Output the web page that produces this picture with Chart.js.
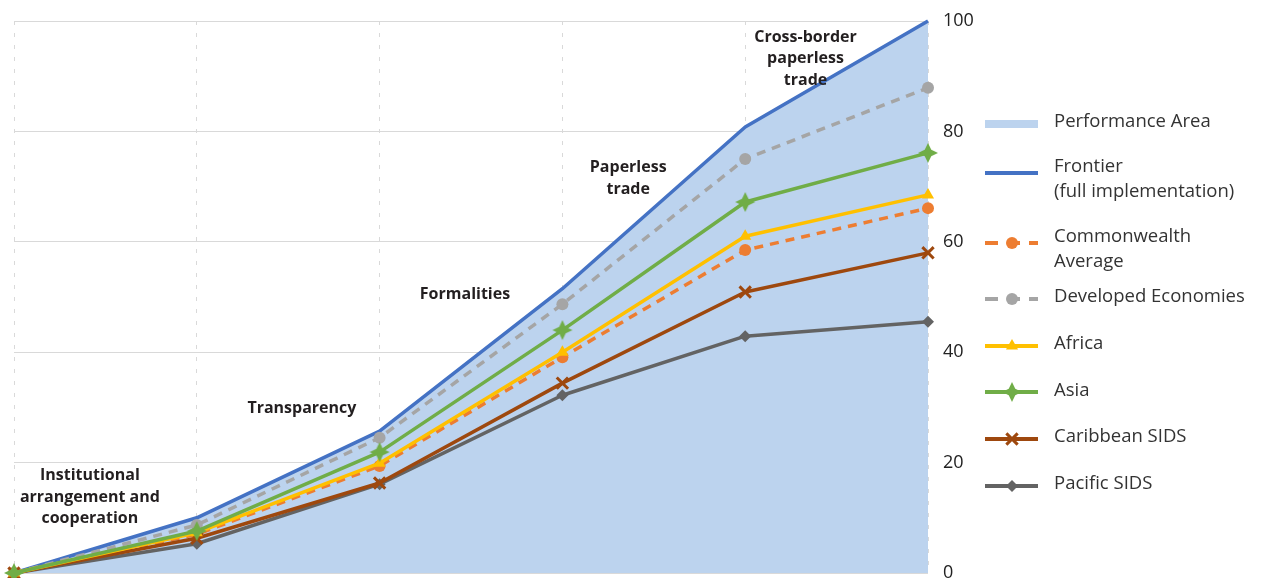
<!DOCTYPE html>
<html>
<head>
<meta charset="utf-8">
<script src="https://cdn.jsdelivr.net/npm/chart.js@4.4.1/dist/chart.umd.min.js"></script>
<style>
  html, body { margin: 0; padding: 0; background: #ffffff; }
  #wrap { width: 1267px; height: 578px; position: relative; }
</style>
</head>
<body>
<div id="wrap"><canvas id="c" width="1267" height="578"></canvas></div>
<script>
// Implementation stages (x categories)
const stages = ['Start', 'Institutional arrangement and cooperation', 'Transparency', 'Formalities', 'Paperless trade', 'Cross-border paperless trade'];

// Cumulative implementation scores (%)
const frontier     = [0, 10.0, 25.7, 51.5, 80.8, 100];
const developed    = [0, 8.7, 24.5, 48.7, 75.0, 87.9];
const commonwealth = [0, 7.0, 19.4, 39.1, 58.5, 66.1];
const africa       = [0, 7.3, 19.9, 40.0, 61.0, 68.5];
const asia         = [0, 7.6, 21.9, 44.0, 67.2, 76.1];
const caribbean    = [0, 6.3, 16.3, 34.4, 50.9, 58.0];
const pacific      = [0, 5.3, 16.1, 32.2, 42.9, 45.5];

const yTicks = [0, 20, 40, 60, 80, 100];

// Legend entries (text lines)
const legendLines = [
  ['Performance Area'],
  ['Frontier', '(full implementation)'],
  ['Commonwealth', 'Average'],
  ['Developed Economies'],
  ['Africa'],
  ['Asia'],
  ['Caribbean SIDS'],
  ['Pacific SIDS']
];

// Stage captions written inside the plot
const stageCaptions = [
  ['Institutional', 'arrangement and', 'cooperation'],
  ['Transparency'],
  ['Formalities'],
  ['Paperless', 'trade'],
  ['Cross-border', 'paperless', 'trade']
];

// four-pointed star marker
function makeStar(color) {
  const cv = document.createElement('canvas');
  cv.width = 22; cv.height = 22;
  const g = cv.getContext('2d');
  g.fillStyle = color;
  g.beginPath();
  for (let k = 0; k < 8; k++) {
    const a = k * Math.PI / 4 - Math.PI / 2;
    const r = (k % 2 === 0) ? 10 : 4.6;
    const px = 11 + r * Math.cos(a), py = 11 + r * Math.sin(a);
    if (k === 0) g.moveTo(px, py); else g.lineTo(px, py);
  }
  g.closePath();
  g.fill();
  return cv;
}
const starImg = makeStar('#70AD47');

const FONT = "'Open Sans', 'Liberation Sans', sans-serif";

const datasets = [
  { label: legendLines[0].join(' '), data: frontier, fill: 'origin', backgroundColor: '#BCD3EE',
    borderWidth: 0, pointRadius: 0, order: 100, _legend: 'box' },
  { label: legendLines[1].join(' '), data: frontier, borderColor: '#4472C4', borderWidth: 3.5,
    pointRadius: 0, order: 90 },
  { label: legendLines[2].join(' '), data: commonwealth, borderColor: '#ED7D31', backgroundColor: '#ED7D31',
    borderWidth: 3.5, borderDash: [9, 7], pointStyle: 'circle', pointRadius: 6, pointBorderWidth: 0, order: 70 },
  { label: legendLines[3].join(' '), data: developed, borderColor: '#A5A5A5', backgroundColor: '#A5A5A5',
    borderWidth: 3.5, borderDash: [9, 7], pointStyle: 'circle', pointRadius: 6, pointBorderWidth: 0, order: 80 },
  { label: legendLines[4].join(' '), data: africa, borderColor: '#FFC000', backgroundColor: '#FFC000',
    borderWidth: 3.5, pointStyle: 'triangle', pointRadius: 7, pointBorderWidth: 0, order: 40 },
  { label: legendLines[5].join(' '), data: asia, borderColor: '#70AD47', backgroundColor: '#70AD47',
    borderWidth: 3.5, pointStyle: starImg, pointRadius: 9, pointBorderWidth: 0, order: 30 },
  { label: legendLines[6].join(' '), data: caribbean, borderColor: '#9E480E', backgroundColor: '#9E480E',
    borderWidth: 3.5, pointStyle: 'crossRot', pointRadius: 8, pointBorderWidth: 3, order: 50 },
  { label: legendLines[7].join(' '), data: pacific, borderColor: '#636363', backgroundColor: '#636363',
    borderWidth: 3.5, pointStyle: 'rectRot', pointRadius: 6, pointBorderWidth: 0, order: 60 }
];
datasets.forEach(d => { d.tension = 0; d.clip = false; if (d.fill === undefined) d.fill = false; });

// legend row layout: sample centre y and first text line y
const legendRows = [
  { sy: 124, ty: 122 }, { sy: 173, ty: 167 }, { sy: 243, ty: 237 }, { sy: 299, ty: 297 },
  { sy: 346, ty: 344 }, { sy: 392, ty: 391 }, { sy: 439, ty: 437 }, { sy: 486, ty: 484 }
];

const legendPlugin = {
  id: 'sideLegend',
  afterDraw(chart) {
    const ctx = chart.ctx;
    ctx.save();
    const x0 = 985, x1 = 1038, tx = 1054;
    chart.data.datasets.forEach((ds, i) => {
      const row = legendRows[i];
      if (ds._legend === 'box') {
        ctx.fillStyle = ds.backgroundColor;
        ctx.fillRect(x0, row.sy - 4, x1 - x0, 8);
      } else {
        ctx.strokeStyle = ds.borderColor;
        ctx.lineWidth = 4;
        ctx.setLineDash(ds.borderDash ? [13, 9] : []);
        ctx.beginPath();
        ctx.moveTo(x0, row.sy);
        ctx.lineTo(x1, row.sy);
        ctx.stroke();
        ctx.setLineDash([]);
        if (ds.pointRadius > 0 && Chart.helpers && Chart.helpers.drawPoint) {
          ctx.fillStyle = ds.backgroundColor;
          ctx.strokeStyle = ds.backgroundColor;
          ctx.lineWidth = ds.pointBorderWidth || 0;
          Chart.helpers.drawPoint(ctx, {
            pointStyle: ds.pointStyle, rotation: 0,
            radius: ds.pointRadius, borderWidth: ds.pointBorderWidth || 0
          }, (x0 + x1) / 2 + 0.5, row.sy);
        }
      }
      ctx.fillStyle = '#333333';
      ctx.font = '18.5px ' + FONT;
      ctx.textAlign = 'left';
      ctx.textBaseline = 'middle';
      legendLines[i].forEach((line, k) => ctx.fillText(line, tx, row.ty + k * 25));
    });
    ctx.restore();
  }
};

// caption anchors in data units (x index, y value of first line)
const captionAnchors = [
  { x: 0.415, y: 17.6 }, { x: 1.575, y: 29.9 }, { x: 2.467, y: 50.5 },
  { x: 3.36, y: 73.4 }, { x: 4.33, y: 97.1 }
];

const captionPlugin = {
  id: 'stageCaptions',
  afterDatasetsDraw(chart) {
    const ctx = chart.ctx;
    const xs = chart.scales.x, ys = chart.scales.y;
    const step = xs.getPixelForValue(1) - xs.getPixelForValue(0);
    ctx.save();
    ctx.fillStyle = '#231F20';
    ctx.font = 'bold 16px ' + FONT;
    ctx.textAlign = 'center';
    ctx.textBaseline = 'middle';
    stageCaptions.forEach((lines, i) => {
      const a = captionAnchors[i];
      const px = xs.getPixelForValue(0) + a.x * step;
      const py = ys.getPixelForValue(a.y);
      lines.forEach((line, k) => ctx.fillText(line, px, py + k * 21.5));
    });
    ctx.restore();
  }
};

new Chart(document.getElementById('c'), {
  type: 'line',
  data: { labels: stages, datasets },
  options: {
    responsive: false,
    animation: false,
    events: [],
    layout: { autoPadding: false, padding: { left: 14, top: 21, right: 0, bottom: 5 } },
    plugins: { legend: { display: false }, tooltip: { enabled: false } },
    elements: { line: { borderCapStyle: 'butt', borderJoinStyle: 'round' } },
    scales: {
      x: {
        type: 'category',
        offset: false,
        afterFit(scale) { scale.height = 0; scale.paddingLeft = 0; scale.paddingRight = 0; },
        ticks: { display: false },
        grid: { color: '#D9D9D9', lineWidth: 1, drawTicks: false },
        border: { display: false, dash: [4, 8] }
      },
      y: {
        position: 'right',
        min: 0, max: 100,
        afterBuildTicks(scale) { scale.ticks = yTicks.map(v => ({ value: v })); },
        afterFit(scale) { scale.width = 1267 - 928; scale.paddingTop = 0; scale.paddingBottom = 0; },
        ticks: { padding: 15, color: '#222222', font: { size: 18, family: FONT } },
        grid: { color: '#D9D9D9', lineWidth: 1, drawTicks: false },
        border: { display: false }
      }
    }
  },
  plugins: [legendPlugin, captionPlugin]
});
</script>
</body>
</html>
